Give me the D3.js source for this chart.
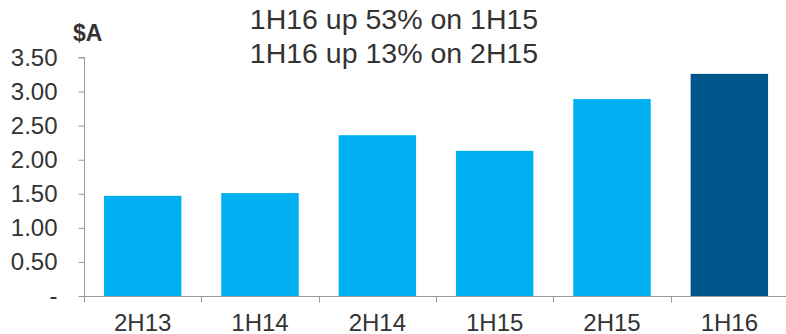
<!DOCTYPE html>
<html><head><meta charset="utf-8">
<script src="https://cdn.jsdelivr.net/npm/d3@7"></script>
<style>body{margin:0;background:#fff}svg{display:block}text{font-family:"Liberation Sans",Arial,sans-serif;fill:#333}</style>
</head><body><svg id="c" width="786" height="334"></svg>
<script>
const categories = ["2H13","1H14","2H14","1H15","2H15","1H16"];
const values = [1.47, 1.51, 2.36, 2.13, 2.89, 3.26];
const highlight = ["1H16"];
const yTicks = [0, 0.5, 1, 1.5, 2, 2.5, 3, 3.5];
const titleLines = ["1H16 up 53% on 1H15", "1H16 up 13% on 2H15"];
const unitLabel = "$A";

const svg = d3.select("#c");
const x0 = 84, x1 = 788, yBottom = 296, yTop = 57.5;
const x = d3.scaleBand().domain(categories).range([x0, x1]).paddingInner(0.34).paddingOuter(0.17);
const y = d3.scaleLinear().domain([0, 3.5]).range([yBottom, yTop]);

// bars
svg.append("g").selectAll("rect").data(categories).join("rect")
  .attr("x", d => x(d)).attr("width", x.bandwidth())
  .attr("y", (d,i) => y(values[i])).attr("height", (d,i) => y(0) - y(values[i]))
  .attr("fill", d => highlight.includes(d) ? "#00558C" : "#00B0F0");

// y axis
const yAxis = d3.axisLeft(y).tickValues(yTicks).tickSize(6).tickPadding(21)
  .tickFormat(d => d === 0 ? "-" : d3.format(".2f")(d));
const gy = svg.append("g").attr("transform", `translate(${x0 + 0.5},0)`).call(yAxis);
gy.select(".domain").attr("stroke", "#999").attr("d", `M-6,${yTop}H0V${yBottom}`);
gy.selectAll(".tick line").attr("stroke", "#999");
gy.selectAll(".tick text").style("font-size", "24px").attr("fill", "#333");

// x axis
const step = x.step();
const gx = svg.append("g").attr("transform", `translate(0,${yBottom + 0.5})`);
gx.append("line").attr("x1", x0).attr("x2", 786).attr("stroke", "#999");
gx.selectAll("line.t").data(d3.range(categories.length)).join("line").attr("class","t")
  .attr("x1", i => Math.round(x0 + i*step) + 0.5).attr("x2", i => Math.round(x0 + i*step) + 0.5)
  .attr("y1", 0).attr("y2", 6).attr("stroke", "#999");
gx.selectAll("text").data(categories).join("text")
  .attr("x", d => x(d) + x.bandwidth()/2).attr("y", 34.5)
  .attr("text-anchor", "middle").style("font-size", "24px").text(d => d);

// unit label
svg.append("text").attr("x", 73).attr("y", 41).style("font-size", "23px").style("font-weight", "bold").text(unitLabel);

// title
svg.selectAll("text.title").data(titleLines).join("text").attr("class","title")
  .attr("x", 394).attr("y", (d,i) => 28.5 + i*34).attr("text-anchor", "middle")
  .style("font-size", "28.5px").text(d => d);
</script></body></html>
